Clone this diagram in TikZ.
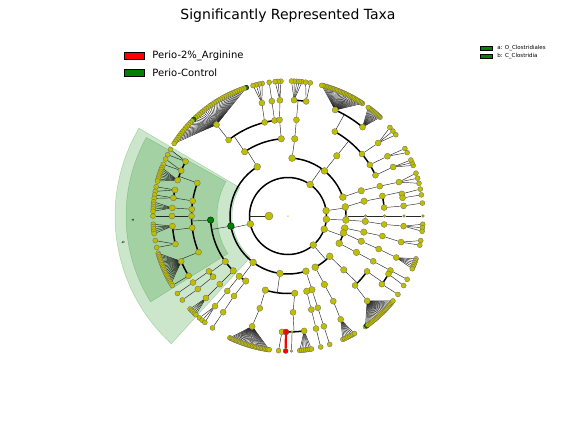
\documentclass[tikz,border=0pt]{standalone}
\usepackage{fontspec}
\setmainfont{DejaVu Sans}
\usetikzlibrary{positioning}
\definecolor{yel}{rgb}{0.75,0.75,0}
\definecolor{bioc}{rgb}{0,0.5,0}
\pgfdeclarelayer{wedge}
\pgfdeclarelayer{edge}
\pgfsetlayers{wedge,edge,main}
\def\radii{{0,19,38.5,58,77.5,96.5,116,135}}

\tikzset{
  tax/.style={circle,fill=yel,draw=black!60,line width=0.3pt,inner sep=0pt},
  lev1/.style={minimum size=8pt},
  lev2/.style={minimum size=6.8pt},
  lev3/.style={minimum size=6.8pt},
  lev4/.style={minimum size=6.5pt},
  lev5/.style={minimum size=6pt},
  lev6/.style={minimum size=6pt},
  lev7/.style={minimum size=5pt},
  bio/.style={fill=bioc,draw=black},
  enr/.style={fill=red,draw=black!70},
  tiny/.style={minimum size=2.8pt},
  link/.style={black!85,line width=0.45pt},
  clade/.style={black,line width=1.5pt},
  redlink/.style={red,line width=2.2pt},
  wedgefill/.style={fill=bioc,fill opacity=0.2,draw=bioc,draw opacity=0.25,line width=0.5pt},
  legbox/.style={draw=black,line width=0.6pt,minimum width=20pt,minimum height=7pt,inner sep=0pt},
  smallbox/.style={draw=black,line width=0.4pt,minimum width=12pt,minimum height=4.5pt,inner sep=0pt,fill=bioc},
  legtxt/.style={inner sep=0pt,font=\fontsize{10}{12}\selectfont},
  smalltxt/.style={inner sep=0pt,font=\fontsize{5.5}{6}\selectfont},
  lab/.style={inner sep=0pt,font=\fontsize{4}{5}\selectfont},
  % biomarkers and small taxa
  hl3x190/.style={bio}, hl4x183/.style={bio},
  hl7x128y1/.style={bio}, hl7x128y27/.style={bio}, hl7x-47y2/.style={bio},
  hl6x269/.style={enr},
  hl3x0/.style={tiny}, hl4x0/.style={tiny}, hl5x0/.style={tiny},
  hl6x0/.style={tiny}, hl7x0y1/.style={tiny},
  hl6x272/.style={tiny}, hl7x272y1/.style={tiny}
}

% connectors are collected and drawn under the nodes at the end
\newtoks\edgetoks
\newcommand{\addedge}[1]{\global\edgetoks\expandafter{\the\edgetoks#1}}
% children of node t<level>x<angle>, one ring further out
\newcommand{\mkclade}[3]{%
  \pgfmathtruncatemacro\kk{#1+1}%
  \pgfmathsetmacro\rr{\radii[\kk]}%
  \pgfmathsetmacro\amin{min(#2,#3)}%
  \pgfmathsetmacro\amax{max(#2,#3)}%
  \foreach \ang [count=\nn] in {#3}{%
    \edef\nodecmd{\noexpand\node[tax,lev\kk,hl\kk x\ang/.try] (t\kk x\ang) at (\ang:\rr pt) {};}\nodecmd
    \xdef\nch{\nn}}%
  \ifnum\nch=1
    \edef\edgecmd{\noexpand\draw[link] (t#1x#2) -- (t\kk x#3);}%
  \else
    \edef\edgecmd{\noexpand\draw[clade] (\amin:\rr pt) arc[start angle=\amin,end angle=\amax,radius=\rr pt];
      \noexpand\draw[link] (t#1x#2) -- (#2:\rr pt);}%
  \fi
  \expandafter\addedge\expandafter{\edgecmd}%
}
% leaves of genus t6x<angle>
\newcommand{\mkfan}[4]{%
  \foreach \i in {1,...,#4}{%
    \pgfmathsetmacro\leafang{#2+(\i-1)*(#3-#2)/max(#4-1,1)}%
    \edef\nodecmd{\noexpand\node[tax,lev7,hl7x#1y\i/.try] (t7x#1y\i) at (\leafang:135pt) {};}\nodecmd
    \edef\edgecmd{\noexpand\draw[link] (t6x#1) -- (t7x#1y\i);}%
    \expandafter\addedge\expandafter{\edgecmd}%
  }%
}

\begin{document}
\begin{tikzpicture}
  \useasboundingbox (-288pt,-216pt) rectangle (288pt,216pt);

  % highlighted clades
  \begin{pgfonlayer}{wedge}
    \draw[wedgefill] (149.5:56pt) arc[start angle=149.5,end angle=227.6,radius=56pt]
      -- (227.6:173pt) arc[start angle=227.6,end angle=149.5,radius=173pt] -- cycle;
    \draw[wedgefill] (151:71pt) arc[start angle=151,end angle=212,radius=71pt]
      -- (212:162pt) arc[start angle=212,end angle=151,radius=162pt] -- cycle;
  \end{pgfonlayer}
  \node[lab,rotate=90] (la) at (181.5:155pt) {a};
  \node[lab,rotate=99] (lb) at (189:167pt) {b};

  % root, kingdom, phyla
  \node[tax,minimum size=1.5pt,draw=none] (t0x0) at (0,0) {};
  \node[tax,lev1] (t1x180) at (180:19pt) {};
  \foreach \ang in {192,55,8,-5,-20,-49}
    \node[tax,lev2] (t2x\ang) at (\ang:38.5pt) {};
  \addedge{\draw[clade] (0,0) circle[radius=38.5pt];
    \draw[link] (t1x180) -- (180:38.5pt);}

  % classes
  \mkclade{2}{192}{122,190,233,262,288}
  \mkclade{2}{55}{86,51,19}
  \mkclade{2}{8}{9,0}
  \mkclade{2}{-5}{-4}
  \mkclade{2}{-20}{-12,-17,-28}
  \mkclade{2}{-49}{-44,-62}

  % orders
  \mkclade{3}{122}{124,95}
  \mkclade{3}{190}{183,216,225}
  \mkclade{3}{233}{231,237}
  \mkclade{3}{262}{253,275}
  \mkclade{3}{288}{288,284}
  \mkclade{3}{86}{85}
  \mkclade{3}{51}{51}
  \mkclade{3}{19}{19}
  \mkclade{3}{9}{11}
  \mkclade{3}{0}{0}
  \mkclade{3}{-4}{-4}
  \mkclade{3}{-12}{-12}
  \mkclade{3}{-17}{-19}
  \mkclade{3}{-28}{-28}
  \mkclade{3}{-44}{-44}
  \mkclade{3}{-62}{-62}

  % families
  \mkclade{4}{124}{128,104,98}
  \mkclade{4}{95}{95}
  \mkclade{4}{183}{160,171,176,180,187,202}
  \mkclade{4}{216}{215,219}
  \mkclade{4}{225}{225}
  \mkclade{4}{231}{231}
  \mkclade{4}{237}{236}
  \mkclade{4}{253}{253}
  \mkclade{4}{275}{273}
  \mkclade{4}{288}{288}
  \mkclade{4}{284}{284}
  \mkclade{4}{85}{85}
  \mkclade{4}{51}{61,40,32,25}
  \mkclade{4}{19}{18}
  \mkclade{4}{11}{12,5}
  \mkclade{4}{0}{0}
  \mkclade{4}{-4}{-5}
  \mkclade{4}{-12}{-12}
  \mkclade{4}{-19}{-20}
  \mkclade{4}{-28}{-28}
  \mkclade{4}{-44}{-35,-46}
  \mkclade{4}{-62}{-62}

  % genera
  \mkclade{5}{128}{128}
  \mkclade{5}{104}{103}
  \mkclade{5}{98}{98}
  \mkclade{5}{95}{94}
  \mkclade{5}{160}{152,157,162}
  \mkclade{5}{171}{167,171}
  \mkclade{5}{176}{176}
  \mkclade{5}{180}{180}
  \mkclade{5}{187}{185,194}
  \mkclade{5}{202}{203,211}
  \mkclade{5}{215}{215}
  \mkclade{5}{219}{219}
  \mkclade{5}{225}{225}
  \mkclade{5}{231}{231}
  \mkclade{5}{236}{236}
  \mkclade{5}{253}{252}
  \mkclade{5}{273}{267,269,272,278}
  \mkclade{5}{288}{288}
  \mkclade{5}{284}{284}
  \mkclade{5}{85}{87,81}
  \mkclade{5}{61}{66,50}
  \mkclade{5}{40}{39}
  \mkclade{5}{32}{31}
  \mkclade{5}{25}{25}
  \mkclade{5}{18}{17}
  \mkclade{5}{12}{11,9}
  \mkclade{5}{5}{5}
  \mkclade{5}{0}{0}
  \mkclade{5}{-5}{-5}
  \mkclade{5}{-12}{-13}
  \mkclade{5}{-20}{-21}
  \mkclade{5}{-28}{-28}
  \mkclade{5}{-35}{-30,-36}
  \mkclade{5}{-46}{-47}
  \mkclade{5}{-62}{-63}

  % species
  \mkfan{128}{108}{147.5}{40}
  \mkfan{103}{101}{105}{4}
  \mkfan{98}{98}{98}{1}
  \mkfan{94}{93}{95.5}{3}
  \mkfan{152}{150.5}{153}{2}
  \mkfan{157}{155}{157.5}{2}
  \mkfan{162}{159}{165}{8}
  \mkfan{167}{167.5}{169.5}{2}
  \mkfan{171}{171}{172.5}{2}
  \mkfan{176}{174}{178}{5}
  \mkfan{180}{180}{180}{1}
  \mkfan{185}{183.5}{187.5}{5}
  \mkfan{194}{190.5}{193.5}{2}
  \mkfan{203}{196}{210}{20}
  \mkfan{211}{211}{211}{1}
  \mkfan{215}{215}{215}{1}
  \mkfan{219}{218.5}{218.5}{1}
  \mkfan{225}{223.5}{227}{5}
  \mkfan{231}{229}{232}{3}
  \mkfan{236}{236}{236}{1}
  \mkfan{252}{244.5}{262}{28}
  \mkfan{267}{266}{266}{1}
  \mkfan{272}{271.5}{271.5}{1}
  \mkfan{278}{275}{280}{7}
  \mkfan{288}{288}{288}{1}
  \mkfan{284}{284}{284}{1}
  \mkfan{87}{84}{88.5}{5}
  \mkfan{81}{80.5}{82.5}{2}
  \mkfan{66}{56.5}{75.5}{30}
  \mkfan{50}{47}{53.5}{12}
  \mkfan{39}{37}{41}{3}
  \mkfan{31}{28}{30}{2}
  \mkfan{25}{22}{24.5}{3}
  \mkfan{17}{14}{18.5}{3}
  \mkfan{11}{11.5}{11.5}{1}
  \mkfan{9}{9}{9}{1}
  \mkfan{5}{5.5}{5.5}{1}
  \mkfan{0}{0}{0}{1}
  \mkfan{-5}{-3.5}{-6.5}{3}
  \mkfan{-13}{-10.5}{-12.5}{2}
  \mkfan{-21}{-18.5}{-23}{6}
  \mkfan{-28}{-28}{-28}{1}
  \mkfan{-30}{-31}{-31}{1}
  \mkfan{-36}{-35.5}{-35.5}{1}
  \mkfan{-47}{-55}{-39}{25}
  \mkfan{-63}{-66}{-60.5}{8}
  % enriched in Perio-2%_Arginine
  \node[tax,lev7,enr] (t7x269) at (269:135pt) {};
  \addedge{\draw[redlink] (t6x269) -- (t7x269);}

  \begin{pgfonlayer}{edge}
    \the\edgetoks
  \end{pgfonlayer}

  % title and legends
  \node[font=\fontsize{14}{16}\selectfont] (title) at (0pt,200pt) {Significantly Represented Taxa};
  \node[legbox,fill=red] (k1) at (-154pt,160pt) {};
  \node[legbox,fill=bioc,below=9pt of k1] (k2) {};
  \node[legtxt,right=8pt of k1] (k1t) {Perio-2\%\_Arginine};
  \node[legtxt,right=8pt of k2] (k2t) {Perio-Control};
  \node[smallbox] (s1) at (198pt,168pt) {};
  \node[smallbox,below=3.5pt of s1] (s2) {};
  \node[smalltxt,right=5pt of s1] (s1t) {a: O\_Clostridiales};
  \node[smalltxt,right=5pt of s2] (s2t) {b: C\_Clostridia};
\end{tikzpicture}
\end{document}
